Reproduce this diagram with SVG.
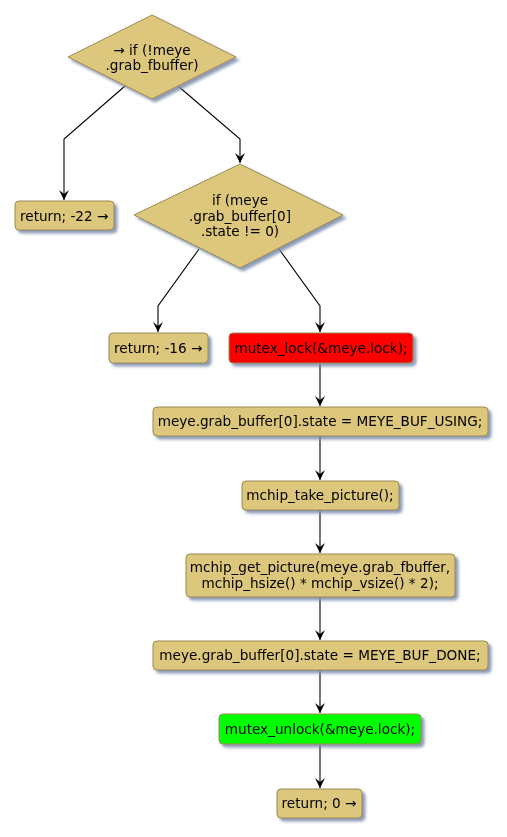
<svg xmlns="http://www.w3.org/2000/svg" width="507" height="837" viewBox="0 0 507 837">
<style>
.n{fill:#DCC77C;stroke:#9C8A4E;stroke-width:1}
.red{fill:#FF0000}
.green{fill:#00FF00}
.t{font-family:"DejaVu Sans",sans-serif;font-size:13.6px;fill:#000}
.c{text-anchor:middle}
.e{fill:none;stroke:#000;stroke-width:1.1}
</style>
<defs>
<filter id="sh" x="-10%" y="-10%" width="130%" height="140%">
<feOffset in="SourceAlpha" dx="3" dy="3" result="o"/>
<feGaussianBlur in="o" stdDeviation="1.5" result="b"/>
<feFlood flood-color="#7F8FAF" flood-opacity="0.9"/>
<feComposite in2="b" operator="in" result="s"/>
<feMerge><feMergeNode in="s"/><feMergeNode in="SourceGraphic"/></feMerge>
</filter>
<marker id="ah" markerWidth="12" markerHeight="12" refX="11" refY="6" orient="auto" markerUnits="userSpaceOnUse" viewBox="0 0 12 12">
<path d="M1,1 L11,6 L1,11 L5,6 Z" fill="#000"/>
</marker>
</defs>
<rect width="507" height="837" fill="#FFFFFF"/>
<g id="connectors">
<polyline class="e" points="125,86 64,139 64,200" marker-end="url(#ah)"/>
<polyline class="e" points="178,86 240,139 240,163" marker-end="url(#ah)"/>
<polyline class="e" points="199,249 158,306 158,332" marker-end="url(#ah)"/>
<polyline class="e" points="279,249 320,306 320,332" marker-end="url(#ah)"/>
<line class="e" x1="320" y1="363" x2="320" y2="406" marker-end="url(#ah)"/>
<line class="e" x1="320" y1="436" x2="320" y2="480" marker-end="url(#ah)"/>
<line class="e" x1="320" y1="510" x2="320" y2="553" marker-end="url(#ah)"/>
<line class="e" x1="320" y1="597" x2="320" y2="640" marker-end="url(#ah)"/>
<line class="e" x1="320" y1="670" x2="320" y2="713" marker-end="url(#ah)"/>
<line class="e" x1="320" y1="744" x2="320" y2="788" marker-end="url(#ah)"/>
</g>
<g id="d1" filter="url(#sh)">
<polygon class="n" points="152,15 236,57 152,99 68,57"/>
<text class="t c" x="152" y="55">→ if (!meye</text>
<text class="t c" x="152" y="70">.grab_fbuffer)</text>
</g>
<g id="r22" filter="url(#sh)">
<rect class="n" x="15" y="201" width="99" height="29" rx="4"/>
<text class="t" x="20" y="221">return; -22 →</text>
</g>
<g id="d2" filter="url(#sh)">
<polygon class="n" points="240,164 343,215 240,268 134,215"/>
<text class="t c" x="240" y="205">if (meye</text>
<text class="t c" x="240" y="221">.grab_buffer[0]</text>
<text class="t c" x="240" y="236">.state != 0)</text>
</g>
<g id="r16" filter="url(#sh)">
<rect class="n" x="109" y="333" width="99" height="30" rx="4"/>
<text class="t" x="114" y="353">return; -16 →</text>
</g>
<g id="lock" filter="url(#sh)">
<rect class="n red" x="229" y="333" width="184" height="30" rx="4"/>
<text class="t c" x="321" y="353">mutex_lock(&amp;meye.lock);</text>
</g>
<g id="using" filter="url(#sh)">
<rect class="n" x="153" y="407" width="335" height="29" rx="4"/>
<text class="t c" x="320" y="426">meye.grab_buffer[0].state = MEYE_BUF_USING;</text>
</g>
<g id="take" filter="url(#sh)">
<rect class="n" x="242" y="481" width="157" height="29" rx="4"/>
<text class="t c" x="320" y="500">mchip_take_picture();</text>
</g>
<g id="get" filter="url(#sh)">
<rect class="n" x="186" y="554" width="269" height="43" rx="4"/>
<text class="t c" x="320" y="572">mchip_get_picture(meye.grab_fbuffer,</text>
<text class="t c" x="320" y="588">mchip_hsize() * mchip_vsize() * 2);</text>
</g>
<g id="done" filter="url(#sh)">
<rect class="n" x="153" y="641" width="335" height="29" rx="4"/>
<text class="t c" x="320" y="660">meye.grab_buffer[0].state = MEYE_BUF_DONE;</text>
</g>
<g id="unlock" filter="url(#sh)">
<rect class="n green" x="219" y="714" width="202" height="30" rx="4"/>
<text class="t c" x="320" y="734">mutex_unlock(&amp;meye.lock);</text>
</g>
<g id="r0" filter="url(#sh)">
<rect class="n" x="277" y="789" width="85" height="29" rx="4"/>
<text class="t c" x="319" y="808">return; 0 →</text>
</g>
</svg>
